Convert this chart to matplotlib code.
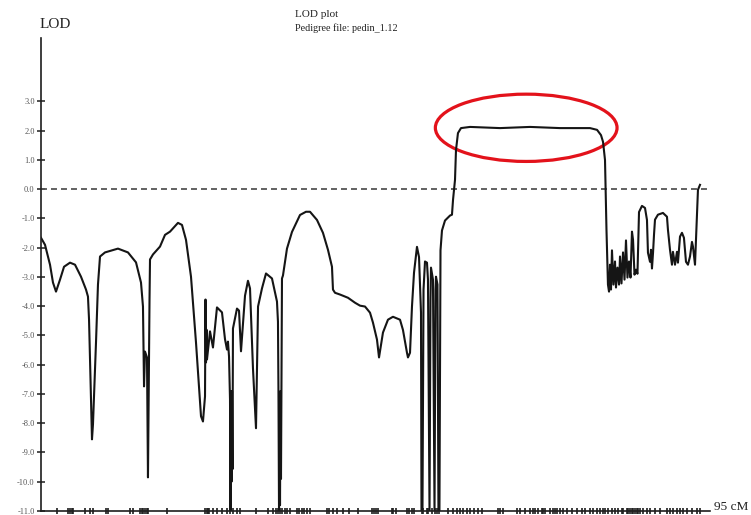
import matplotlib
matplotlib.use("Agg")
import matplotlib.pyplot as plt
from matplotlib.patches import Ellipse

plt.rcParams["font.family"] = ["Liberation Serif", "DejaVu Serif"]
plt.rcParams["lines.scale_dashes"] = False

# LOD score along the chromosome (position in cM, LOD)
pos_cm = [
    0.00, 0.57, 1.28, 1.70, 2.13, 2.70, 3.27, 4.12, 4.83, 5.68, 6.39, 6.67, 6.82, 7.03, 7.24, 7.38,
    7.81, 8.09, 8.38, 9.09, 9.51, 10.93, 12.35, 13.49, 14.20, 14.48, 14.63, 14.77, 14.91, 15.05,
    15.19, 15.41, 15.48, 15.90, 16.90, 17.61, 18.32, 19.45, 20.02, 20.59, 21.30, 22.01, 22.72,
    23.00, 23.29, 23.36, 23.43, 23.50, 23.57, 24.00, 24.42, 24.99, 25.70, 26.13, 26.41, 26.55,
    26.70, 26.84, 26.91, 26.98, 27.05, 27.12, 27.19, 27.26, 27.83, 28.12, 28.40, 28.97, 29.39,
    29.68, 30.10, 30.53, 30.82, 31.38, 31.95, 32.80, 33.51, 33.65, 33.72, 33.80, 33.87, 33.94,
    34.01, 34.08, 34.22, 34.36, 34.93, 35.64, 36.78, 37.63, 38.20, 39.19, 40.04, 40.75, 41.32,
    41.46, 41.75, 42.46, 43.59, 44.59, 45.30, 46.01, 46.72, 47.14, 47.71, 48.00, 48.56, 49.27,
    49.98, 50.98, 51.40, 51.97, 52.11, 52.40, 52.68, 52.97, 53.39, 53.68, 53.96, 54.03, 54.17,
    54.32, 54.53, 54.81, 54.95, 55.17, 55.31, 55.38, 55.66, 55.88, 56.02, 56.09, 56.30, 56.44,
    56.58, 56.73, 56.94, 57.37, 58.08, 58.36, 58.51, 58.79, 58.93, 59.21, 59.64, 60.92, 65.18,
    69.44, 73.70, 77.96, 78.96, 79.52, 79.81, 80.09, 80.30, 80.51, 80.66, 80.80, 80.94, 81.08,
    81.29, 81.51, 81.65, 81.86, 82.08, 82.22, 82.43, 82.65, 82.86, 83.07, 83.28, 83.50, 83.71,
    83.92, 84.07, 84.28, 84.49, 84.70, 84.92, 85.34, 85.77, 86.05, 86.19, 86.48, 86.62, 86.76,
    86.91, 87.05, 87.19, 87.61, 88.32, 88.89, 89.03, 89.32, 89.60, 89.74, 90.03, 90.31, 90.45,
    90.74, 91.02, 91.30, 91.59, 91.87, 92.16, 92.44, 92.58, 92.87, 93.15, 93.29, 93.58,
]
lod = [
    -1.66, -1.90, -2.58, -3.19, -3.50, -3.09, -2.65, -2.51, -2.58, -2.99, -3.43, -3.67, -4.45, -6.50,
    -8.55, -8.04, -5.24, -3.26, -2.30, -2.16, -2.13, -2.03, -2.16, -2.50, -3.19, -4.01, -6.74, -5.55,
    -5.65, -5.75, -9.85, -3.77, -2.40, -2.23, -1.96, -1.56, -1.45, -1.15, -1.22, -1.73, -2.99, -5.24,
    -7.76, -7.94, -7.08, -3.77, -5.92, -4.80, -5.82, -4.86, -5.41, -4.04, -4.21, -5.13, -5.48, -5.21,
    -5.72, -7.19, -11.0, -6.91, -10.0, -6.91, -9.57, -4.76, -4.08, -4.15, -5.54, -3.64, -3.13, -3.39,
    -6.12, -8.17, -4.01, -3.39, -2.88, -3.05, -3.84, -4.53, -6.91, -11.0, -7.00, -10.8, -6.90, -9.90,
    -3.05, -2.95, -2.03, -1.46, -0.88, -0.77, -0.77, -1.05, -1.49, -2.07, -2.65, -3.43, -3.54, -3.60,
    -3.71, -3.88, -3.98, -4.01, -4.22, -4.56, -5.14, -5.75, -4.90, -4.46, -4.36, -4.46, -4.81, -5.59,
    -5.75, -5.59, -4.01, -2.85, -1.97, -2.32, -4.22, -11.0, -11.0, -3.43, -2.47, -2.51, -3.09, -11.0,
    -3.77, -2.68, -3.09, -11.0, -3.43, -2.99, -3.26, -11.0, -11.0, -2.09, -1.41, -1.07, -0.90, -0.87,
    -0.36, 0.32, 1.34, 1.92, 2.09, 2.13, 2.09, 2.13, 2.09, 2.09, 2.03, 1.85, 1.62, 1.00, -1.39, -3.26,
    -3.50, -2.58, -3.43, -2.09, -3.26, -2.47, -3.36, -2.68, -3.26, -2.30, -3.22, -2.16, -3.09, -1.75,
    -3.02, -2.47, -3.02, -1.45, -1.73, -2.92, -2.75, -2.89, -0.78, -0.57, -0.64, -1.05, -2.17, -2.48,
    -2.07, -2.71, -2.17, -1.55, -1.04, -0.87, -0.81, -0.94, -1.39, -2.07, -2.58, -2.14, -2.58, -2.14,
    -2.51, -1.62, -1.49, -1.66, -2.48, -2.58, -2.30, -1.80, -1.96, -2.58, -0.81, -0.02, 0.15,
]

# Genotyped marker positions (cM)
markers_cm = [
    2.27, 3.83, 4.12, 4.40, 4.54, 6.25, 6.96, 7.38, 9.23, 9.51, 12.64, 13.06, 14.06, 14.34, 14.48,
    14.77, 15.05, 15.19, 17.89, 23.29, 23.57, 23.71, 23.86, 24.42, 24.99, 25.70, 26.41, 26.84, 27.26,
    27.83, 28.26, 30.53, 32.23, 32.94, 33.37, 33.65, 33.94, 34.22, 34.65, 34.93, 35.36, 36.35, 36.64,
    37.06, 37.35, 37.77, 38.20, 40.61, 40.90, 41.46, 42.03, 42.88, 43.74, 45.01, 47.00, 47.29, 47.57,
    47.86, 49.84, 49.98, 50.41, 51.97, 52.26, 52.68, 52.97, 54.10, 54.24, 54.81, 54.95, 55.52, 55.95,
    56.23, 56.52, 57.79, 58.50, 59.07, 59.50, 59.92, 60.49, 60.92, 61.49, 62.05, 62.62, 64.89, 65.18,
    65.60, 67.59, 68.02, 68.73, 69.44, 69.86, 70.15, 70.57, 71.14, 71.28, 71.57, 72.28, 72.70, 72.99,
    73.27, 73.70, 74.12, 74.69, 75.40, 76.11, 76.82, 77.25, 77.96, 78.38, 78.95, 79.38, 79.80, 80.09,
    80.51, 81.08, 81.51, 81.93, 82.50, 82.64, 83.21, 83.35, 83.64, 83.92, 84.06, 84.35, 84.63, 84.77,
    85.06, 85.48, 86.05, 86.48, 87.19, 87.90, 88.89, 89.32, 89.74, 90.31, 90.74, 91.16, 91.73, 92.44,
    93.15, 93.58,
]

y_ticks = [3.0, 2.0, 1.0, 0.0, -1.0, -2.0, -3.0, -4.0, -5.0, -6.0, -7.0, -8.0, -9.0, -10.0, -11.0]
y_tick_labels = [f"{v:.1f}" for v in y_ticks]
chrom_length_cm = 95

# highlighted linkage peak
peak_center = (68.9, 2.10)
peak_width = 25.8
peak_height = 2.3

W, H = 751, 515
fig = plt.figure(figsize=(W / 100, H / 100), dpi=100)
fig.patch.set_facecolor("white")

ax_left, ax_right, ax_top, ax_bottom = 41, 710, 38, 511.0
ax = fig.add_axes([ax_left / W, (H - ax_bottom) / H,
                   (ax_right - ax_left) / W, (ax_bottom - ax_top) / H])
ax.set_xlim(0, chrom_length_cm)
ax.set_ylim(-11.0, 5.17)

for side in ("top", "right"):
    ax.spines[side].set_visible(False)
for side in ("left", "bottom"):
    ax.spines[side].set_color("#1e1e1e")
    ax.spines[side].set_linewidth(1.2)

ax.set_yticks(y_ticks)
ax.set_yticklabels(y_tick_labels)
ax.tick_params(axis="y", direction="inout", length=6, width=1.1, color="#1e1e1e",
               labelsize=6.0, labelcolor="#555555", pad=1.5)

ax.set_xticks(markers_cm)
ax.tick_params(axis="x", direction="inout", length=5, width=1.2, color="#1e1e1e",
               labelbottom=False)

ax.axhline(0.0, color="#555555", lw=1.3, linestyle=(0, (4.3, 2.9)))

ax.plot(pos_cm, lod, color="#151515", lw=1.5, solid_joinstyle="round")

ax.add_patch(Ellipse(peak_center, peak_width, peak_height, fill=False,
                     edgecolor="#e3121b", lw=2.3))

fig.text(40 / W, (H - 28) / H, "LOD", fontsize=11, color="#222222", va="baseline")
fig.text(295 / W, (H - 17) / H, "LOD plot", fontsize=8, color="#222222", va="baseline")
fig.text(295 / W, (H - 31) / H, "Pedigree file: pedin_1.12", fontsize=7.3,
         color="#222222", va="baseline")
fig.text(714 / W, (H - 510.5) / H, "95 cM", fontsize=9.6, color="#222222",
         va="baseline")

fig.savefig("out.png", dpi=100)
